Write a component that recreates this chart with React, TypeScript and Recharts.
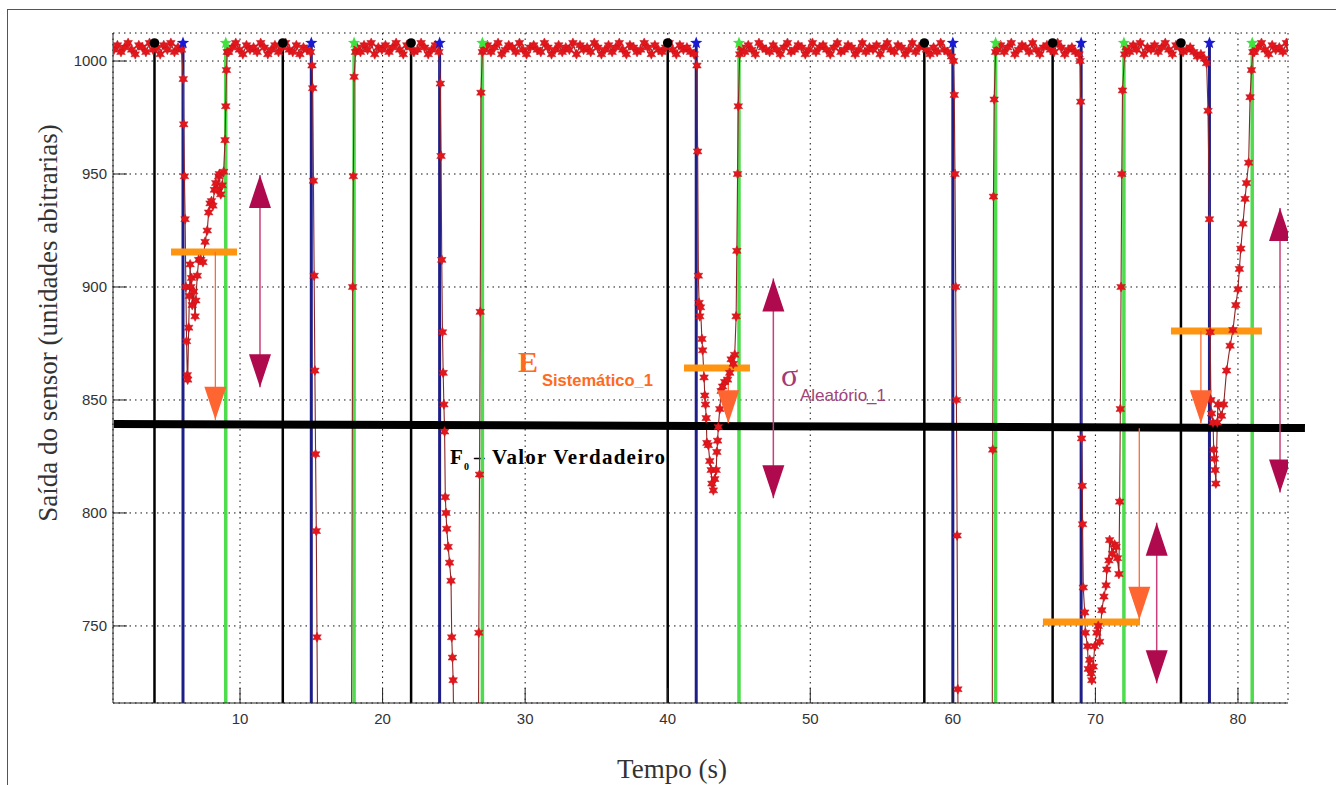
import React from "react";
import {
  ComposedChart,
  Line,
  Scatter,
  XAxis,
  YAxis,
  CartesianGrid,
  ReferenceLine,
  Customized,
} from "recharts";

const xDomain = [1.09, 83.51];
const yDomain = [715.9, 1012.4];
const xTicks = [10, 20, 30, 40, 50, 60, 70, 80];
const yTicks = [750, 800, 850, 900, 950, 1000];

// trigger times (s)
const blackTimes = [4, 13, 22, 40, 58, 67, 76];
const blueTimes = [6, 15, 24, 42, 60, 69, 78];
const greenTimes = [9, 18, 27, 45, 63, 72, 81];
const eventTop = 1008;

// baseline readings, one every 0.25 s
const plateauStep = 0.25;
const plateauStarts = [1.15, 9.2, 18.2, 27.1, 45.15, 63.1, 72.15, 81.15];
const plateau1 = [1005, 1007, 1004, 1006, 1008, 1005, 1003, 1007, 1006, 1004, 1008, 1005, 1006, 1003, 1007, 1005, 1008, 1004, 1006, 1005];
const plateau2 = [1004, 1006, 1008, 1005, 1003, 1007, 1005, 1006, 1004, 1008, 1006, 1003, 1005, 1007, 1004, 1006, 1008, 1005, 1004, 1007, 1003, 1006, 1005, 1004];
const plateau3 = [1006, 1004, 1007, 1005, 1008, 1003, 1006, 1005, 1007, 1004, 1006, 1008, 1005, 1003, 1007, 1006, 1004, 1005, 1008, 1006, 1003, 1005, 1007, 1004];
const plateau4 = [
  1005, 1007, 1004, 1006, 1008, 1003, 1005, 1007, 1006, 1004,
  1008, 1005, 1003, 1006, 1007, 1005, 1004, 1008, 1006, 1003,
  1005, 1007, 1004, 1006, 1005, 1008, 1003, 1007, 1005, 1006,
  1004, 1008, 1006, 1003, 1005, 1007, 1004, 1006, 1008, 1005,
  1003, 1007, 1006, 1004, 1005, 1008, 1006, 1003, 1007, 1005,
  1004, 1006, 1008, 1005, 1003, 1007, 1005, 1006, 1004, 1003,
];
const plateau5 = [
  1006, 1004, 1007, 1005, 1003, 1008, 1006, 1005, 1004, 1007,
  1005, 1003, 1006, 1008, 1004, 1005, 1007, 1006, 1003, 1005,
  1008, 1004, 1006, 1007, 1005, 1003, 1006, 1008, 1004, 1005,
  1007, 1006, 1003, 1005, 1008, 1004, 1006, 1005, 1007, 1003,
  1006, 1008, 1005, 1004, 1007, 1006, 1003, 1005, 1008, 1004,
  1006, 1007, 1005, 1003, 1006, 1004, 1008, 1005, 1004, 1002,
];
const plateau6 = [1005, 1007, 1004, 1006, 1008, 1003, 1005, 1007, 1006, 1004, 1008, 1005, 1003, 1006, 1007, 1005, 1004, 1008, 1006, 1003, 1005, 1006, 1004, 1003];
const plateau7 = [1006, 1004, 1007, 1005, 1008, 1003, 1006, 1005, 1007, 1004, 1006, 1008, 1005, 1003, 1007, 1006, 1004, 1005, 1006, 1004, 1002, 1003, 1001];
const plateau8 = [1004, 1006, 1008, 1005, 1003, 1007, 1005, 1006, 1004, 1008, 1005];

// transients [t, value]; values under the axis run off the chart
const drop6 = [
  [6.02, 992], [6.05, 972], [6.1, 949], [6.15, 930], [6.2, 900], [6.25, 876], [6.3, 861], [6.33, 859],
  [6.4, 882], [6.45, 896], [6.5, 910], [6.55, 900], [6.6, 904], [6.65, 892], [6.75, 898], [6.85, 887],
  [6.9, 894], [7.0, 905], [7.1, 912], [7.25, 912], [7.4, 911], [7.55, 920], [7.7, 925], [7.8, 933],
  [7.9, 937], [8.0, 938], [8.1, 936], [8.2, 943], [8.3, 946], [8.4, 943], [8.5, 949], [8.55, 950],
  [8.65, 941], [8.75, 945], [8.85, 951], [8.95, 965], [9.0, 980], [9.05, 996], [9.1, 1004],
];
const drop15 = [[15.05, 998], [15.1, 988], [15.15, 947], [15.2, 905], [15.25, 863], [15.3, 826], [15.35, 792], [15.4, 745], [15.5, 650]];
const rise18 = [[17.8, 650], [17.9, 900], [17.95, 949], [18.0, 993], [18.1, 1004]];
const drop24 = [
  [24.05, 990], [24.1, 958], [24.15, 912], [24.2, 880], [24.25, 862], [24.3, 848], [24.35, 836], [24.4, 807],
  [24.45, 800], [24.5, 793], [24.6, 785], [24.7, 778], [24.8, 770], [24.85, 745], [24.9, 736], [24.95, 726],
  [25.0, 700], [25.1, 650],
];
const rise27 = [[26.7, 650], [26.75, 747], [26.8, 817], [26.85, 889], [26.9, 986], [27.0, 1004]];
const drop42 = [
  [42.05, 998], [42.1, 960], [42.15, 905], [42.2, 893], [42.25, 887], [42.3, 891], [42.4, 877], [42.45, 872],
  [42.55, 860], [42.6, 852], [42.65, 848], [42.7, 842], [42.75, 831], [42.85, 830], [42.95, 823], [43.05, 819],
  [43.1, 813], [43.2, 810], [43.3, 815], [43.4, 819], [43.45, 827], [43.5, 832], [43.55, 838], [43.65, 846],
  [43.75, 854], [43.85, 856], [44.0, 858], [44.2, 859], [44.35, 862], [44.45, 868], [44.6, 866], [44.7, 870],
  [44.8, 887], [44.85, 916], [44.9, 950], [44.95, 980], [45.05, 1003],
];
const drop60 = [[60.05, 1000], [60.1, 985], [60.15, 950], [60.2, 900], [60.25, 850], [60.3, 790], [60.35, 722], [60.45, 650]];
const rise63 = [[62.75, 650], [62.8, 828], [62.85, 940], [62.9, 983], [63.0, 1004]];
const drop69 = [
  [68.93, 1000], [68.97, 982], [69.03, 833], [69.08, 812], [69.1, 795], [69.15, 767], [69.25, 756], [69.3, 747],
  [69.45, 741], [69.5, 731], [69.6, 735], [69.7, 729], [69.75, 726], [69.85, 732], [69.95, 741], [70.1, 747],
  [70.2, 750], [70.3, 743], [70.45, 757], [70.6, 763], [70.75, 768], [70.8, 775], [70.95, 779], [71.0, 788],
  [71.2, 782], [71.35, 786], [71.45, 785], [71.55, 780], [71.65, 773], [71.7, 805], [71.75, 846], [71.8, 900],
  [71.85, 950], [71.9, 987], [72.05, 1003],
];
const drop78 = [
  [77.8, 999], [77.9, 978], [78.0, 930], [78.05, 880], [78.1, 850], [78.15, 844], [78.25, 840], [78.3, 828],
  [78.35, 824], [78.4, 819], [78.45, 813], [78.55, 840], [78.6, 848], [78.85, 843], [79.0, 848], [79.2, 863],
  [79.45, 874], [79.65, 881], [79.85, 892], [80.0, 899], [80.1, 908], [80.2, 917], [80.35, 928], [80.5, 939],
  [80.6, 946], [80.75, 955], [80.85, 984], [80.95, 996], [81.05, 1004],
];

// annotations (data units)
const trueValueLine = [{ t: 1.15, v: 839.4 }, { t: 84.7, v: 837.6 }];
const systematicBars = [
  { t1: 5.16, t2: 9.79, v: 915.5 },
  { t1: 41.14, t2: 45.77, v: 864.2 },
  { t1: 66.32, t2: 73.13, v: 751.8 },
  { t1: 75.3, t2: 81.68, v: 880.5 },
];
const systematicArrows = [
  { t: 8.27, from: 915.5, to: 841.2 },
  { t: 44.25, from: 864.2, to: 839.7 },
  { t: 73.08, from: 837.5, to: 752.7 },
  { t: 77.4, from: 880.5, to: 839.7 },
];
const randomArrows = [
  { t: 11.4, top: 949.6, bottom: 855.6 },
  { t: 47.41, top: 903.8, bottom: 806.5 },
  { t: 74.3, top: 795.7, bottom: 724.6 },
  { t: 82.95, top: 935, bottom: 809 },
];

const toPts = (start: number, vals: number[]) =>
  vals.map((v, i) => ({ t: +(start + i * plateauStep).toFixed(2), v }));
const pairs = (arr: number[][]) => arr.map(([t, v]) => ({ t, v }));

const signal = [
  ...toPts(plateauStarts[0], plateau1), ...pairs(drop6),
  ...toPts(plateauStarts[1], plateau2), ...pairs(drop15), ...pairs(rise18),
  ...toPts(plateauStarts[2], plateau3), ...pairs(drop24), ...pairs(rise27),
  ...toPts(plateauStarts[3], plateau4), ...pairs(drop42),
  ...toPts(plateauStarts[4], plateau5), ...pairs(drop60), ...pairs(rise63),
  ...toPts(plateauStarts[5], plateau6), ...pairs(drop69),
  ...toPts(plateauStarts[6], plateau7), ...pairs(drop78),
  ...toPts(plateauStarts[7], plateau8),
];

const starPath = (cx: number, cy: number, ro: number, ri: number, n: number) => {
  let d = "";
  for (let i = 0; i < n * 2; i++) {
    const r = i % 2 === 0 ? ro : ri;
    const a = (Math.PI * i) / n - Math.PI / 2;
    d += (i === 0 ? "M" : "L") + (cx + r * Math.cos(a)).toFixed(2) + "," + (cy + r * Math.sin(a)).toFixed(2);
  }
  return d + "Z";
};

const RedDot = (p: any) => {
  if (p.cx == null || p.cy == null) return <g key={`d-${p.index}`} />;
  return <path key={`d-${p.index}`} d={starPath(p.cx, p.cy, 5, 2.7, 6)} fill="#e3161c" stroke="#c4121a" strokeWidth={0.5} />;
};

const BlackDot = (p: any) => <circle cx={p.cx} cy={p.cy} r={4.8} fill="#000" />;
const BlueStar = (p: any) => <path d={starPath(p.cx, p.cy, 6.5, 2.8, 5)} fill="#1a1ad6" />;
const GreenStar = (p: any) => <path d={starPath(p.cx, p.cy, 6.5, 2.8, 5)} fill="#3fe23f" />;

const headW = 11;
const headL = 33;
const OrangeHead = (p: any) => (
  <path d={`M${p.cx},${p.cy}L${p.cx - headW},${p.cy - headL}L${p.cx + headW},${p.cy - headL}Z`} fill="#ff6530" />
);
const UpHead = (p: any) => (
  <path d={`M${p.cx},${p.cy}L${p.cx - headW},${p.cy + headL}L${p.cx + headW},${p.cy + headL}Z`} fill="#b00a4e" />
);
const DownHead = (p: any) => (
  <path d={`M${p.cx},${p.cy}L${p.cx - headW},${p.cy - headL}L${p.cx + headW},${p.cy - headL}Z`} fill="#b00a4e" />
);

const Texts = () => (
  <g>
    <text x={57} y={323} transform="rotate(-90 57 323)" textAnchor="middle" fontFamily="Liberation Serif" fontSize={27} fill="#333">
      Saída do sensor (unidades abitrarias)
    </text>
    <text x={672} y={778} textAnchor="middle" fontFamily="Liberation Serif" fontSize={27} fill="#333">
      Tempo (s)
    </text>
    <text x={518} y={372} fontFamily="Liberation Serif" fontWeight="bold" fontSize={30} fill="#ff6a22">E</text>
    <text x={542} y={386} fontFamily="Liberation Sans" fontWeight="bold" fontSize={16.5} fill="#ff6a22">Sistemático_1</text>
    <text x={781} y={386} fontFamily="Liberation Serif" fontSize={32} fill="#a33a78">σ</text>
    <text x={800} y={401} fontFamily="Liberation Sans" fontSize={17} fill="#a0457a">Aleatório_1</text>
    <text x={450} y={464} fontFamily="Liberation Serif" fontWeight="bold" fontSize={21} fill="#000">F</text>
    <text x={464} y={470} fontFamily="Liberation Serif" fontWeight="bold" fontSize={10} fill="#000">0</text>
    <text x={474} y={464} fontFamily="Liberation Serif" fontWeight="bold" fontSize={21} fill="#000" textLength={191} lengthAdjust="spacing">
      – Valor Verdadeiro
    </text>
  </g>
);

const yMin = yDomain[0];
const tickStyle = { fill: "#333", fontSize: 15, fontFamily: "Liberation Sans" };

export default function App() {
  return (
    <div style={{ position: "absolute", left: 0, top: 0, width: 1336, height: 785, overflow: "hidden", background: "#fff" }}>
      <div style={{ position: "absolute", left: 7, top: 9, width: 1400, height: 900, borderLeft: "1.5px solid #555", borderTop: "1.5px solid #555" }} />
      <ComposedChart width={1336} height={785} margin={{ top: 33, right: 48, bottom: 52, left: 53 }}>
        <CartesianGrid stroke="#111" strokeDasharray="1.5 4" />
        <XAxis
          type="number"
          dataKey="t"
          domain={xDomain}
          ticks={xTicks}
          allowDataOverflow
          interval={0}
          height={30}
          tickSize={-15}
          tickMargin={25}
          axisLine={{ stroke: "#222" }}
          tickLine={{ stroke: "#222" }}
          tick={tickStyle}
        />
        <YAxis
          type="number"
          domain={yDomain}
          ticks={yTicks}
          allowDataOverflow
          interval={0}
          width={60}
          tickSize={-14}
          tickMargin={20}
          axisLine={{ stroke: "#222" }}
          tickLine={{ stroke: "#222" }}
          tick={tickStyle}
        />
        {blackTimes.map((t) => (
          <ReferenceLine key={`k${t}`} segment={[{ x: t, y: yMin }, { x: t, y: eventTop }]} stroke="#000" strokeWidth={2.5} />
        ))}
        {blueTimes.map((t) => (
          <ReferenceLine key={`b${t}`} segment={[{ x: t, y: yMin }, { x: t, y: eventTop }]} stroke="#1e1e88" strokeWidth={3} />
        ))}
        {greenTimes.map((t) => (
          <ReferenceLine key={`g${t}`} segment={[{ x: t, y: yMin }, { x: t, y: eventTop }]} stroke="#4cdc4c" strokeWidth={3.5} />
        ))}
        <Line
          data={signal}
          dataKey="v"
          type="linear"
          stroke="#8b2626"
          strokeWidth={1.1}
          dot={RedDot}
          activeDot={false}
          isAnimationActive={false}
        />
        <Scatter data={blackTimes.map((t) => ({ t, v: eventTop }))} dataKey="v" shape={BlackDot} isAnimationActive={false} />
        <Scatter data={blueTimes.map((t) => ({ t, v: eventTop }))} dataKey="v" shape={BlueStar} isAnimationActive={false} />
        <Scatter data={greenTimes.map((t) => ({ t, v: eventTop }))} dataKey="v" shape={GreenStar} isAnimationActive={false} />
        <ReferenceLine
          segment={[{ x: trueValueLine[0].t, y: trueValueLine[0].v }, { x: trueValueLine[1].t, y: trueValueLine[1].v }]}
          ifOverflow="visible"
          stroke="#000"
          strokeWidth={8}
        />
        {systematicBars.map((b, i) => (
          <ReferenceLine key={`sb${i}`} segment={[{ x: b.t1, y: b.v }, { x: b.t2, y: b.v }]} stroke="#ff9410" strokeWidth={7} />
        ))}
        {systematicArrows.map((a, i) => (
          <ReferenceLine key={`sa${i}`} segment={[{ x: a.t, y: a.from }, { x: a.t, y: a.to }]} stroke="#ff6a33" strokeWidth={1.3} />
        ))}
        {randomArrows.map((a, i) => (
          <ReferenceLine key={`ra${i}`} segment={[{ x: a.t, y: a.top }, { x: a.t, y: a.bottom }]} stroke="#c8407a" strokeWidth={1.5} />
        ))}
        <Scatter data={systematicArrows.map((a) => ({ t: a.t, v: a.to }))} dataKey="v" shape={OrangeHead} isAnimationActive={false} />
        <Scatter data={randomArrows.map((a) => ({ t: a.t, v: a.top }))} dataKey="v" shape={UpHead} isAnimationActive={false} />
        <Scatter data={randomArrows.map((a) => ({ t: a.t, v: a.bottom }))} dataKey="v" shape={DownHead} isAnimationActive={false} />
        <Customized component={Texts} />
      </ComposedChart>
    </div>
  );
}
